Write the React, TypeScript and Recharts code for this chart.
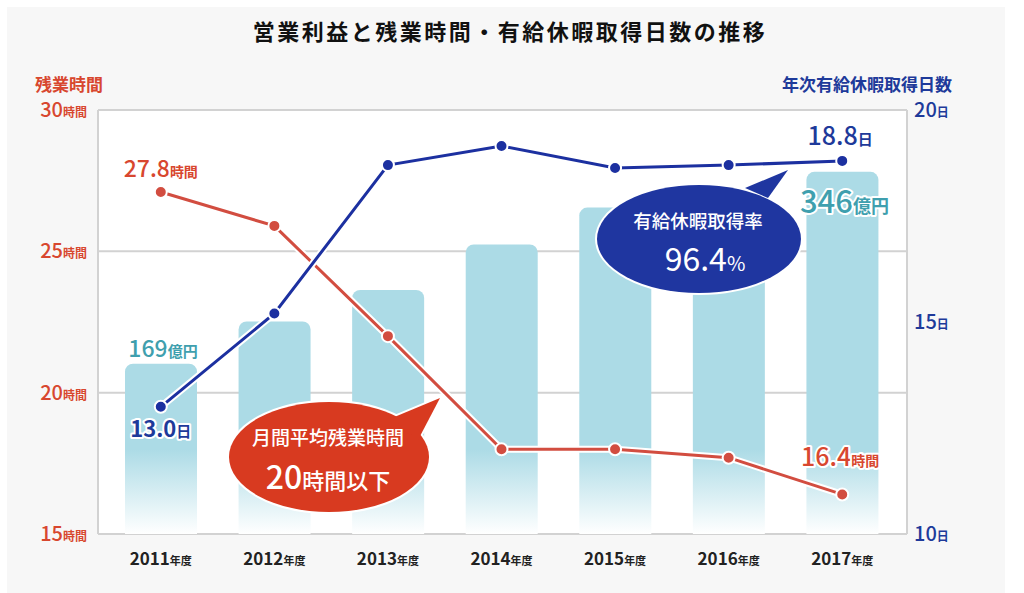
import React from 'react';
import { ComposedChart, Bar, Line, XAxis, YAxis, CartesianGrid, LabelList } from 'recharts';

const years = ['2011', '2012', '2013', '2014', '2015', '2016', '2017'];
const profit = [169, 208, 237, 279, 313, 330, 346];
const overtime = [27.1, 25.9, 22.0, 18.0, 18.0, 17.7, 16.4];
const leaveDays = [13.0, 15.2, 18.7, 19.15, 18.63, 18.7, 18.8];
const profitLabels = ['169', '', '', '', '', '', '346'];
const overtimeLabels = ['27.8', '', '', '', '', '', '16.4'];
const leaveLabels = ['13.0', '', '', '', '', '', '18.8'];
const hourTicks = [15, 20, 25, 30];
const dayTicks = [10, 15, 20];

const data = years.map((y, i) => ({
  year: y,
  profit: profit[i],
  overtime: overtime[i],
  leave: leaveDays[i],
}));

const FONT = "'Noto Sans CJK JP', 'Noto Sans', sans-serif";
const RED = '#d8472f';
const NAVY = '#1e3a9a';
const TEAL = '#3f9fae';
const BAR = '#acdbe6';

const HourTick = ({ y, payload }: any) => (
  <text x={87} y={y + 7} textAnchor="end" fontFamily={FONT} fill={RED}>
    <tspan fontSize={20} fontWeight={500}>{payload.value}</tspan>
    <tspan fontSize={12} fontWeight={700}>時間</tspan>
  </text>
);

const DayTick = ({ y, payload }: any) => (
  <text x={914} y={y + 7} textAnchor="start" fontFamily={FONT} fill={NAVY}>
    <tspan fontSize={20} fontWeight={500}>{payload.value}</tspan>
    <tspan fontSize={12} fontWeight={700}>日</tspan>
  </text>
);

const YearTick = ({ x, y, payload }: any) => (
  <text x={x} y={y + 23} textAnchor="middle" fontFamily={FONT} fill="#222">
    <tspan fontSize={17} fontWeight={700}>{payload.value}</tspan>
    <tspan fontSize={11} fontWeight={700}>年度</tspan>
  </text>
);

const halo = { stroke: '#fff', strokeWidth: 4, paintOrder: 'stroke' as const, strokeLinejoin: 'round' as const };

const ProfitLabel = (props: any) => {
  const { x, y, width, index } = props;
  const t = profitLabels[index];
  if (!t) return null;
  const first = index === 0;
  return (
    <text x={x + width / 2 + 2} y={first ? y - 7 : y + 41} textAnchor="middle" fontFamily={FONT} fill={TEAL} {...halo}>
      <tspan fontSize={first ? 23 : 31} fontWeight={500}>{t}</tspan>
      <tspan fontSize={first ? 15 : 18} fontWeight={700}>億円</tspan>
    </text>
  );
};

const OvertimeLabel = (props: any) => {
  const { x, y, index } = props;
  const t = overtimeLabels[index];
  if (!t) return null;
  const first = index === 0;
  return (
    <text x={first ? x : x - 2} y={first ? y - 15 : y - 28} textAnchor="middle" fontFamily={FONT} fill={RED} {...halo}>
      <tspan fontSize={first ? 23 : 25} fontWeight={500}>{t}</tspan>
      <tspan fontSize={14} fontWeight={700}>時間</tspan>
    </text>
  );
};

const LeaveLabel = (props: any) => {
  const { x, y, index } = props;
  const t = leaveLabels[index];
  if (!t) return null;
  const first = index === 0;
  return (
    <text x={first ? x : x - 2} y={first ? y + 30 : y - 16} textAnchor="middle" fontFamily={FONT} fill={NAVY} {...halo}>
      <tspan fontSize={first ? 22 : 25} fontWeight={first ? 700 : 500}>{t}</tspan>
      <tspan fontSize={15} fontWeight={700}>日</tspan>
    </text>
  );
};

const Bubbles = () => (
  <svg width={1024} height={593} style={{ position: 'absolute', left: 0, top: 0, pointerEvents: 'none' }}>
    {/* overtime bubble */}
    <g stroke="#fff" strokeWidth={4} fill="#fff">
      <ellipse cx={329} cy={457} rx={100} ry={55} />
      <polygon points="392,418 440,398 418,440" />
    </g>
    <g fill="#d83a20">
      <ellipse cx={329} cy={457} rx={100} ry={55} />
      <polygon points="392,418 440,398 418,440" />
    </g>
    <text x={328} y={445} textAnchor="middle" fontFamily={FONT} fontSize={19} fontWeight={500} fill="#fff">月間平均残業時間</text>
    <text x={328} y={489} textAnchor="middle" fontFamily={FONT} fill="#fff">
      <tspan fontSize={32} fontWeight={500}>20</tspan>
      <tspan fontSize={22} fontWeight={500}>時間以下</tspan>
    </text>
    {/* leave bubble */}
    <g stroke="#fff" strokeWidth={4} fill="#fff">
      <ellipse cx={699} cy={239} rx={102} ry={54} />
      <polygon points="745,188 788,170 768,198" />
    </g>
    <g fill="#1f36a0">
      <ellipse cx={699} cy={239} rx={102} ry={54} />
      <polygon points="745,188 788,170 768,198" />
    </g>
    <text x={698} y={228} textAnchor="middle" fontFamily={FONT} fontSize={18.5} fontWeight={500} fill="#fff">有給休暇取得率</text>
    <text x={705} y={271} textAnchor="middle" fontFamily={FONT} fill="#fff">
      <tspan fontSize={32} fontWeight={400}>96.4</tspan>
      <tspan fontSize={20} fontWeight={400}>%</tspan>
    </text>
  </svg>
);

export default function App() {
  return (
    <div style={{ position: 'absolute', left: 0, top: 0, width: 1024, height: 593, background: '#fff', fontFamily: FONT }}>
      <div style={{ position: 'absolute', left: 7, top: 7, width: 998, height: 586, background: '#f7f7f7' }} />
      <div style={{ position: 'absolute', left: 0, top: 19, width: 1020, textAlign: 'center', fontSize: 22, lineHeight: 1, letterSpacing: 2.5, fontWeight: 700, color: '#111' }}>
        営業利益と残業時間・有給休暇取得日数の推移
      </div>
      <div style={{ position: 'absolute', left: 35, top: 75, fontSize: 17, lineHeight: 1, fontWeight: 700, color: RED }}>残業時間</div>
      <div style={{ position: 'absolute', right: 1024 - 952, top: 75, fontSize: 17, lineHeight: 1, fontWeight: 700, color: NAVY }}>年次有給休暇取得日数</div>
      <div style={{ position: 'absolute', left: 0, top: 0 }}>
        <ComposedChart width={1024} height={593} data={data} margin={{ top: 110, right: 0, bottom: 0, left: 0 }}>
          <defs>
            <linearGradient id="barFade" gradientUnits="userSpaceOnUse" x1={0} y1={110} x2={0} y2={534}>
              <stop offset="0" stopColor={BAR} />
              <stop offset="0.8" stopColor={BAR} />
              <stop offset="1" stopColor="#ffffff" />
            </linearGradient>
          </defs>
          <CartesianGrid vertical={false} fill="#fff" stroke="#d2d2d2" strokeWidth={2} yAxisId="h" />
          <XAxis dataKey="year" height={59} tick={<YearTick />} tickLine={false} axisLine={false} padding={{ left: 6, right: 8 }} interval={0} />
          <YAxis yAxisId="h" width={98} domain={[15, 30]} ticks={hourTicks} tick={<HourTick />} tickLine={false} axisLine={{ stroke: '#d2d2d2', strokeWidth: 2 }} />
          <YAxis yAxisId="d" orientation="right" width={117} domain={[10, 20]} ticks={dayTicks} tick={<DayTick />} tickLine={false} axisLine={{ stroke: '#d2d2d2', strokeWidth: 2 }} />
          <YAxis yAxisId="p" hide domain={[12, 403]} />
          <Bar yAxisId="p" dataKey="profit" barSize={72} fill="url(#barFade)" radius={[8, 8, 0, 0]} isAnimationActive={false}>
            <LabelList dataKey="profit" content={<ProfitLabel />} />
          </Bar>
          <Line yAxisId="h" dataKey="overtime" stroke="#fff" strokeWidth={7} dot={false} activeDot={false} isAnimationActive={false} />
          <Line yAxisId="h" dataKey="overtime" stroke="#d24d40" strokeWidth={3} dot={{ r: 6, fill: '#d24d40', stroke: '#fff', strokeWidth: 2 }} activeDot={false} isAnimationActive={false}>
            <LabelList dataKey="overtime" content={<OvertimeLabel />} />
          </Line>
          <Line yAxisId="d" dataKey="leave" stroke="#fff" strokeWidth={7} dot={false} activeDot={false} isAnimationActive={false} />
          <Line yAxisId="d" dataKey="leave" stroke="#1c30a0" strokeWidth={3} dot={{ r: 6, fill: '#1c30a0', stroke: '#fff', strokeWidth: 2 }} activeDot={false} isAnimationActive={false}>
            <LabelList dataKey="leave" content={<LeaveLabel />} />
          </Line>
        </ComposedChart>
      </div>
      <Bubbles />
    </div>
  );
}
